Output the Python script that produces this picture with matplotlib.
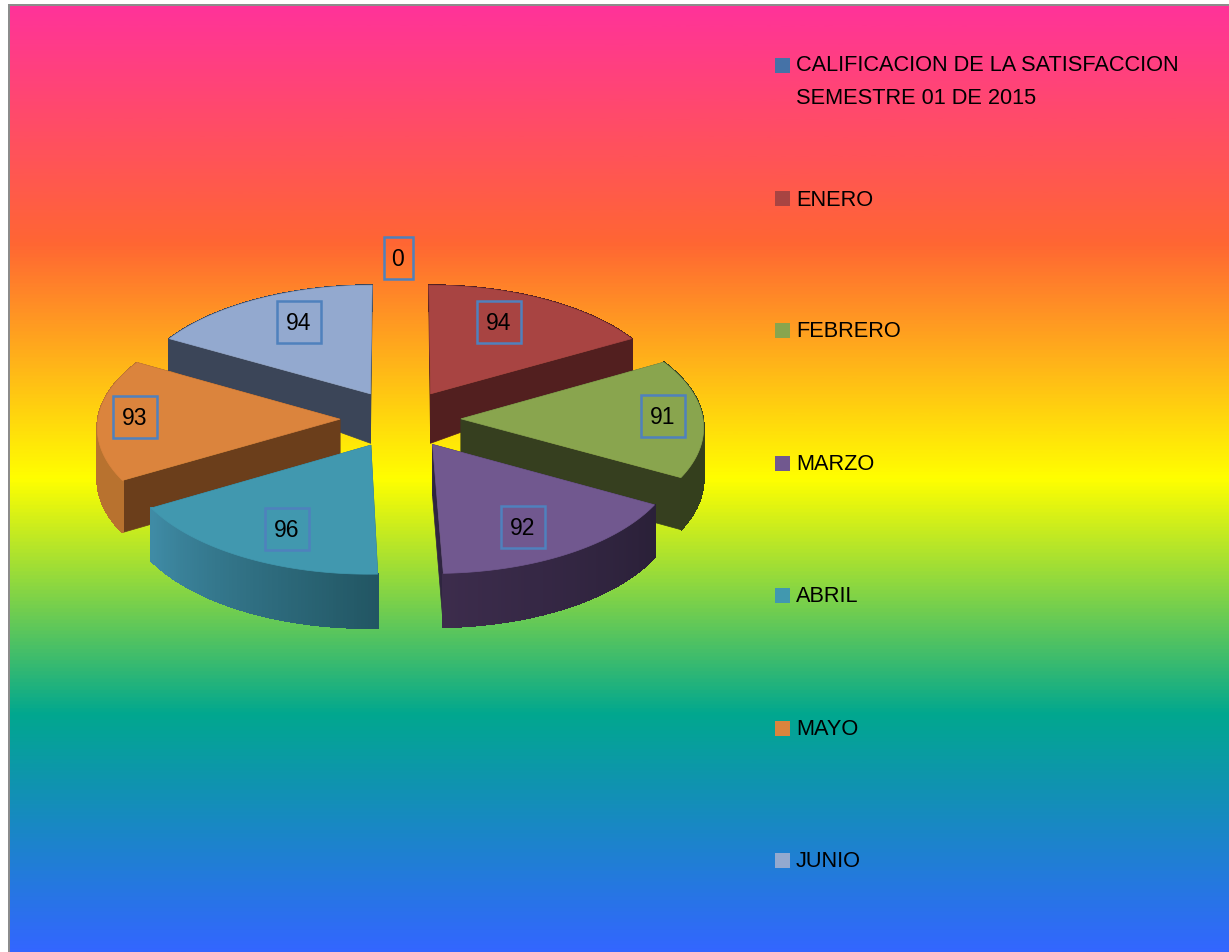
import numpy as np
import matplotlib
matplotlib.use('Agg')
import matplotlib.pyplot as plt
from matplotlib.colors import LinearSegmentedColormap
from matplotlib.patches import Polygon, Rectangle

# Data
months = ['CALIFICACION DE LA SATISFACCION\nSEMESTRE 01 DE 2015', 'ENERO', 'FEBRERO',
          'MARZO', 'ABRIL', 'MAYO', 'JUNIO']
values = [0, 94, 91, 92, 96, 93, 94]

# Colours
top_colors = ['#4572a7', '#a84442', '#89a54e', '#71588f', '#4198af', '#db843d', '#93a9cf']
side_colors = ['#2a4365', '#521f1f', '#363f1f', '#2f2540', '#2a5f6e', '#6b3e1b', '#3b4558']
arc_start_colors = ['#2a4365', '#521f1f', '#343f1d', '#2a2038', '#225663', '#b8722f', '#3b4558']
arc_end_colors = ['#2a4365', '#521f1f', '#343f1d', '#3c2c4c', '#3f8ba5', '#b8722f', '#3b4558']
bg_colors = ['#ff3399', '#ff6633', '#ffff00', '#01a78f', '#3366ff']
box_color = '#4f81bd'

# Layout, in pixels of the 1229x953 picture
label_xy = [(398, 259), (499, 323), (663, 417), (523, 528), (287, 530), (135, 418), (299, 323)]
legend_y = [82, 200, 332, 465, 597, 730, 862]
legend_marker_y = [66, 199, 331, 464, 596, 729, 861]
cx, cy = 400.5, 420
rx, ry = 242, 118
explode = 0.25
persp = 0.06

plt.rcParams['font.family'] = ['Liberation Sans', 'DejaVu Sans']


def project(x, y):
    s = 1 / (1 + persp * y)
    return cx + rx * x * s, cy - ry * y * s


def wall_height(y):
    return np.interp(y, [-1.3, -0.45, 0.2, 0.7, 1.3], [54, 52, 50, 32, 25])


def lerp_color(c1, c2, t):
    a = np.array(matplotlib.colors.to_rgb(c1))
    b = np.array(matplotlib.colors.to_rgb(c2))
    return a + (b - a) * t


fig = plt.figure(figsize=(12.29, 9.53), dpi=100, facecolor='white')
ax = fig.add_axes([0, 0, 1, 1])
ax.set_xlim(0, 1229)
ax.set_ylim(953, 0)
ax.axis('off')

# Rainbow background
cmap = LinearSegmentedColormap.from_list('rainbow_fill', bg_colors)
ax.imshow(np.linspace(0, 1, 512).reshape(-1, 1), cmap=cmap, aspect='auto',
          extent=(10, 1229, 953, 7), zorder=0)
ax.add_patch(Rectangle((8, 5), 1221, 2, color='#8c8c8c', lw=0, zorder=1))
ax.add_patch(Rectangle((8, 5), 2, 948, color='#8c8c8c', lw=0, zorder=1))

# Slice angles, clockwise from the top
total = sum(values)
ends = np.cumsum(values) / total * 2 * np.pi
starts = ends - np.array(values) / total * 2 * np.pi
mids = (starts + ends) / 2

# Back slices first
for i in np.argsort(-np.cos(mids), kind='stable'):
    if values[i] == 0:
        continue
    ex, ey = explode * np.sin(mids[i]), explode * np.cos(mids[i])
    t = np.linspace(starts[i], ends[i], 80)
    arc_x, arc_y = project(ex + np.sin(t), ey + np.cos(t))
    arc_h = wall_height(ey + np.cos(t))
    apex_x, apex_y = project(ex, ey)
    apex_h = wall_height(ey)

    # Radial walls
    for k in [0, -1]:
        wall = [(apex_x, apex_y), (arc_x[k], arc_y[k]),
                (arc_x[k], arc_y[k] + arc_h[k]), (apex_x, apex_y + apex_h)]
        ax.add_patch(Polygon(wall, closed=True, fc=side_colors[i], ec=side_colors[i], lw=0.5, zorder=2))

    # Outer wall, in strips for the shading
    for k in range(len(t) - 1):
        strip = [(arc_x[k], arc_y[k]), (arc_x[k + 1], arc_y[k + 1]),
                 (arc_x[k + 1], arc_y[k + 1] + arc_h[k + 1]), (arc_x[k], arc_y[k] + arc_h[k])]
        col = lerp_color(arc_start_colors[i], arc_end_colors[i], k / (len(t) - 2))
        ax.add_patch(Polygon(strip, closed=True, fc=col, ec=col, lw=0.8, antialiased=False, zorder=2))

    # Top face
    top = [(apex_x, apex_y)] + list(zip(arc_x, arc_y))
    ax.add_patch(Polygon(top, closed=True, fc=top_colors[i], ec=top_colors[i], lw=0.5, zorder=2))

# Data labels with boxes
for val, (lx, ly) in zip(values, label_xy):
    txt = str(val)
    w = 14 + 15 * len(txt)
    ax.add_patch(Rectangle((lx - w / 2, ly - 21), w, 42, fill=False, ec=box_color, lw=1.8, zorder=3))
    ax.text(lx, ly + 1, txt, fontsize=16.5, color='black', ha='center', va='center', zorder=4)

# Legend
for name, col, ty, my in zip(months, top_colors, legend_y, legend_marker_y):
    ax.add_patch(Rectangle((775, my - 7.5), 15, 15, fc=col, ec='none', zorder=3))
    ax.text(796, ty, name, fontsize=15.7, color='black', ha='left', va='center',
            linespacing=1.73, zorder=4)

fig.savefig('out.png', dpi=100)
